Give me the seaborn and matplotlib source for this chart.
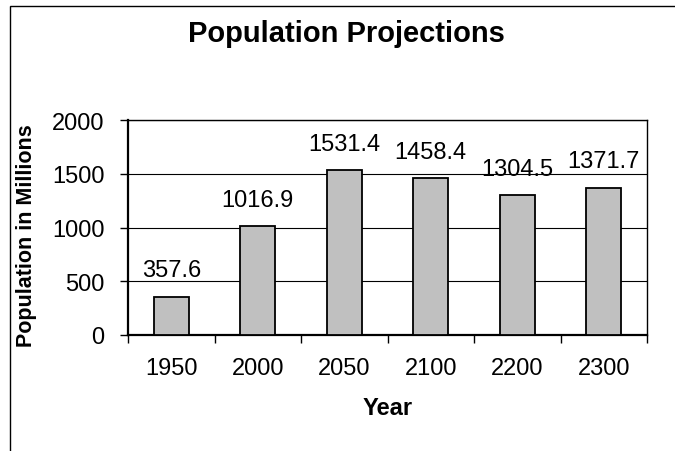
import matplotlib
matplotlib.use("Agg")
import matplotlib.pyplot as plt
import seaborn as sns
import pandas as pd
from matplotlib.patches import Rectangle

# data
years = ["1950", "2000", "2050", "2100", "2200", "2300"]
population = [357.6, 1016.9, 1531.4, 1458.4, 1304.5, 1371.7]
y_ticks = [0, 500, 1000, 1500, 2000]

sns.set_theme(style="white")
plt.rcParams["font.family"] = ["Liberation Sans", "DejaVu Sans"]

df = pd.DataFrame({"Year": years, "Population": population})

fig = plt.figure(figsize=(6.75, 4.52), dpi=100)
ax = fig.add_axes([128 / 675, 1 - 336 / 452, (647 - 128) / 675, (336 - 121) / 452])

sns.barplot(data=df, x="Year", y="Population", color="#C0C0C0",
            edgecolor="black", linewidth=1.3, width=0.4, saturation=1, ax=ax, zorder=3)

ax.set_ylim(0, 2000)
ax.set_xlim(-0.5, len(years) - 0.5)
ax.set_yticks(y_ticks)
ax.yaxis.grid(True, color="black", linewidth=0.8)
ax.set_axisbelow(True)

# category separators as outward ticks on the x axis
ax.set_xticks([i - 0.5 for i in range(len(years) + 1)], minor=True)
ax.tick_params(axis="x", which="minor", direction="out", length=6, width=1, color="black", bottom=True)
ax.tick_params(axis="x", which="major", length=0, pad=16, labelsize=17, colors="black")
ax.tick_params(axis="y", direction="out", length=6, width=1, color="black", left=True,
               pad=11, labelsize=17, labelcolor="black")

for side in ["left", "bottom"]:
    ax.spines[side].set_color("black")
    ax.spines[side].set_linewidth(1.6)
ax.spines["right"].set_color("black")
ax.spines["right"].set_linewidth(1.0)
ax.spines["top"].set_color("black")
ax.spines["top"].set_linewidth(1.0)

for i, v in enumerate(population):
    ax.annotate(f"{v:.1f}", xy=(i, v), xytext=(0, 14.5), textcoords="offset points",
                ha="center", va="baseline", fontsize=17, color="black")

ax.set_xlabel("Year", fontsize=17, fontweight="bold", color="black", labelpad=12)
ax.set_ylabel("")
fig.text(27 / 675, 1 - 236 / 452, "Population in Millions", rotation=90, ha="center", va="center",
         fontsize=15.5, fontweight="bold", color="black")

fig.text(346 / 675, 1 - 42 / 452, "Population Projections", ha="center", va="baseline",
         fontsize=21, fontweight="bold", color="black")

# outer chart border (runs off the right and bottom edges)
fig.patches.append(Rectangle((10 / 675, -0.05), 1.1, 1 - 7 / 452 + 0.05, transform=fig.transFigure,
                             fill=False, edgecolor="black", linewidth=1.0))

fig.savefig("out.png", dpi=100)
